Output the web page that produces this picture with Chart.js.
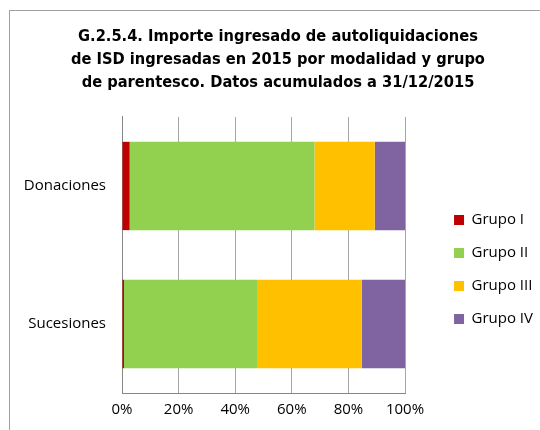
<!DOCTYPE html>
<html>
<head>
<meta charset="utf-8">
<script src="https://cdn.jsdelivr.net/npm/chart.js@4"></script>
<style>
  html, body { margin: 0; padding: 0; background: #fff; }
  #wrap { position: relative; width: 540px; height: 430px; overflow: hidden; }
  #frame { position: absolute; left: 9px; top: 10px; width: 600px; height: 500px; border: 1px solid #a0a0a0; box-sizing: border-box; }
  canvas { position: absolute; left: 0; top: 0; }
</style>
</head>
<body>
<div id="wrap">
  <div id="frame"></div>
  <canvas id="c" width="540" height="430"></canvas>
</div>
<script>
// Categories and share (%) of the amount paid by kinship group
const categories = ['Donaciones', 'Sucesiones'];
const groupLabels = ['Grupo I', 'Grupo II', 'Grupo III', 'Grupo IV'];
const grupoI   = [2.7, 0.7];
const grupoII  = [65.3, 47.0];
const grupoIII = [21.3, 37.0];
const grupoIV  = [10.7, 15.3];
const groupColors = ['#C00000', '#92D050', '#FFC000', '#8064A2'];
const tickValues = [0, 20, 40, 60, 80, 100];
const titleLines = [
  'G.2.5.4. Importe ingresado de autoliquidaciones',
  'de ISD ingresadas en 2015 por modalidad y grupo',
  'de parentesco. Datos acumulados a 31/12/2015'
];

const series = [grupoI, grupoII, grupoIII, grupoIV];
const labelFont = { family: "'Open Sans', 'Liberation Sans', sans-serif", size: 15 };

new Chart(document.getElementById('c'), {
  type: 'bar',
  data: {
    labels: categories,
    datasets: series.map((vals, i) => ({
      label: groupLabels[i],
      data: vals,
      backgroundColor: groupColors[i],
      borderWidth: 0,
      barPercentage: 0.64,
      categoryPercentage: 1
    }))
  },
  options: {
    indexAxis: 'y',
    responsive: false,
    animation: false,
    devicePixelRatio: 1,
    layout: { padding: { left: 13, right: -3, top: 0, bottom: 4 } },
    plugins: {
      tooltip: { enabled: false },
      title: {
        display: true,
        text: titleLines,
        color: '#000',
        font: { family: "'DejaVu Sans Condensed', 'Liberation Sans', sans-serif", size: 16.3, weight: 'bold', lineHeight: 1.41 },
        padding: { top: 25, bottom: 23 }
      },
      legend: {
        position: 'right',
        align: 'center',
        maxWidth: 130,
        // empty spacer title pushes the legend entries down
        title: { display: true, text: ' ', font: { size: 1, lineHeight: 1 }, padding: { top: 112, bottom: 0 } },
        labels: {
          color: '#000',
          font: labelFont,
          boxWidth: 10,
          boxHeight: 10,
          padding: 18
        }
      }
    },
    scales: {
      x: {
        stacked: true,
        min: 0,
        max: 100,
        afterBuildTicks: (axis) => { axis.ticks = tickValues.map(v => ({ value: v })); },
        afterFit: (axis) => { axis.height = 33; },
        ticks: {
          color: '#000',
          font: labelFont,
          padding: 8,
          callback: (v) => v + '%'
        },
        grid: { color: '#a6a6a6', lineWidth: 1, drawTicks: false },
        border: { display: true, color: '#868686', width: 1 }
      },
      y: {
        stacked: true,
        afterFit: (axis) => { axis.width = 109; },
        ticks: { color: '#000', font: labelFont, padding: 16 },
        grid: { display: false, drawTicks: false },
        border: { display: true, color: '#868686', width: 1 }
      },
      // blank strip between the plot and the legend
      gap: {
        axis: 'y',
        type: 'category',
        position: 'right',
        afterFit: (axis) => { axis.width = 31; },
        ticks: { display: false },
        grid: { display: false, drawTicks: false },
        border: { display: false }
      }
    }
  }
});
</script>
</body>
</html>
